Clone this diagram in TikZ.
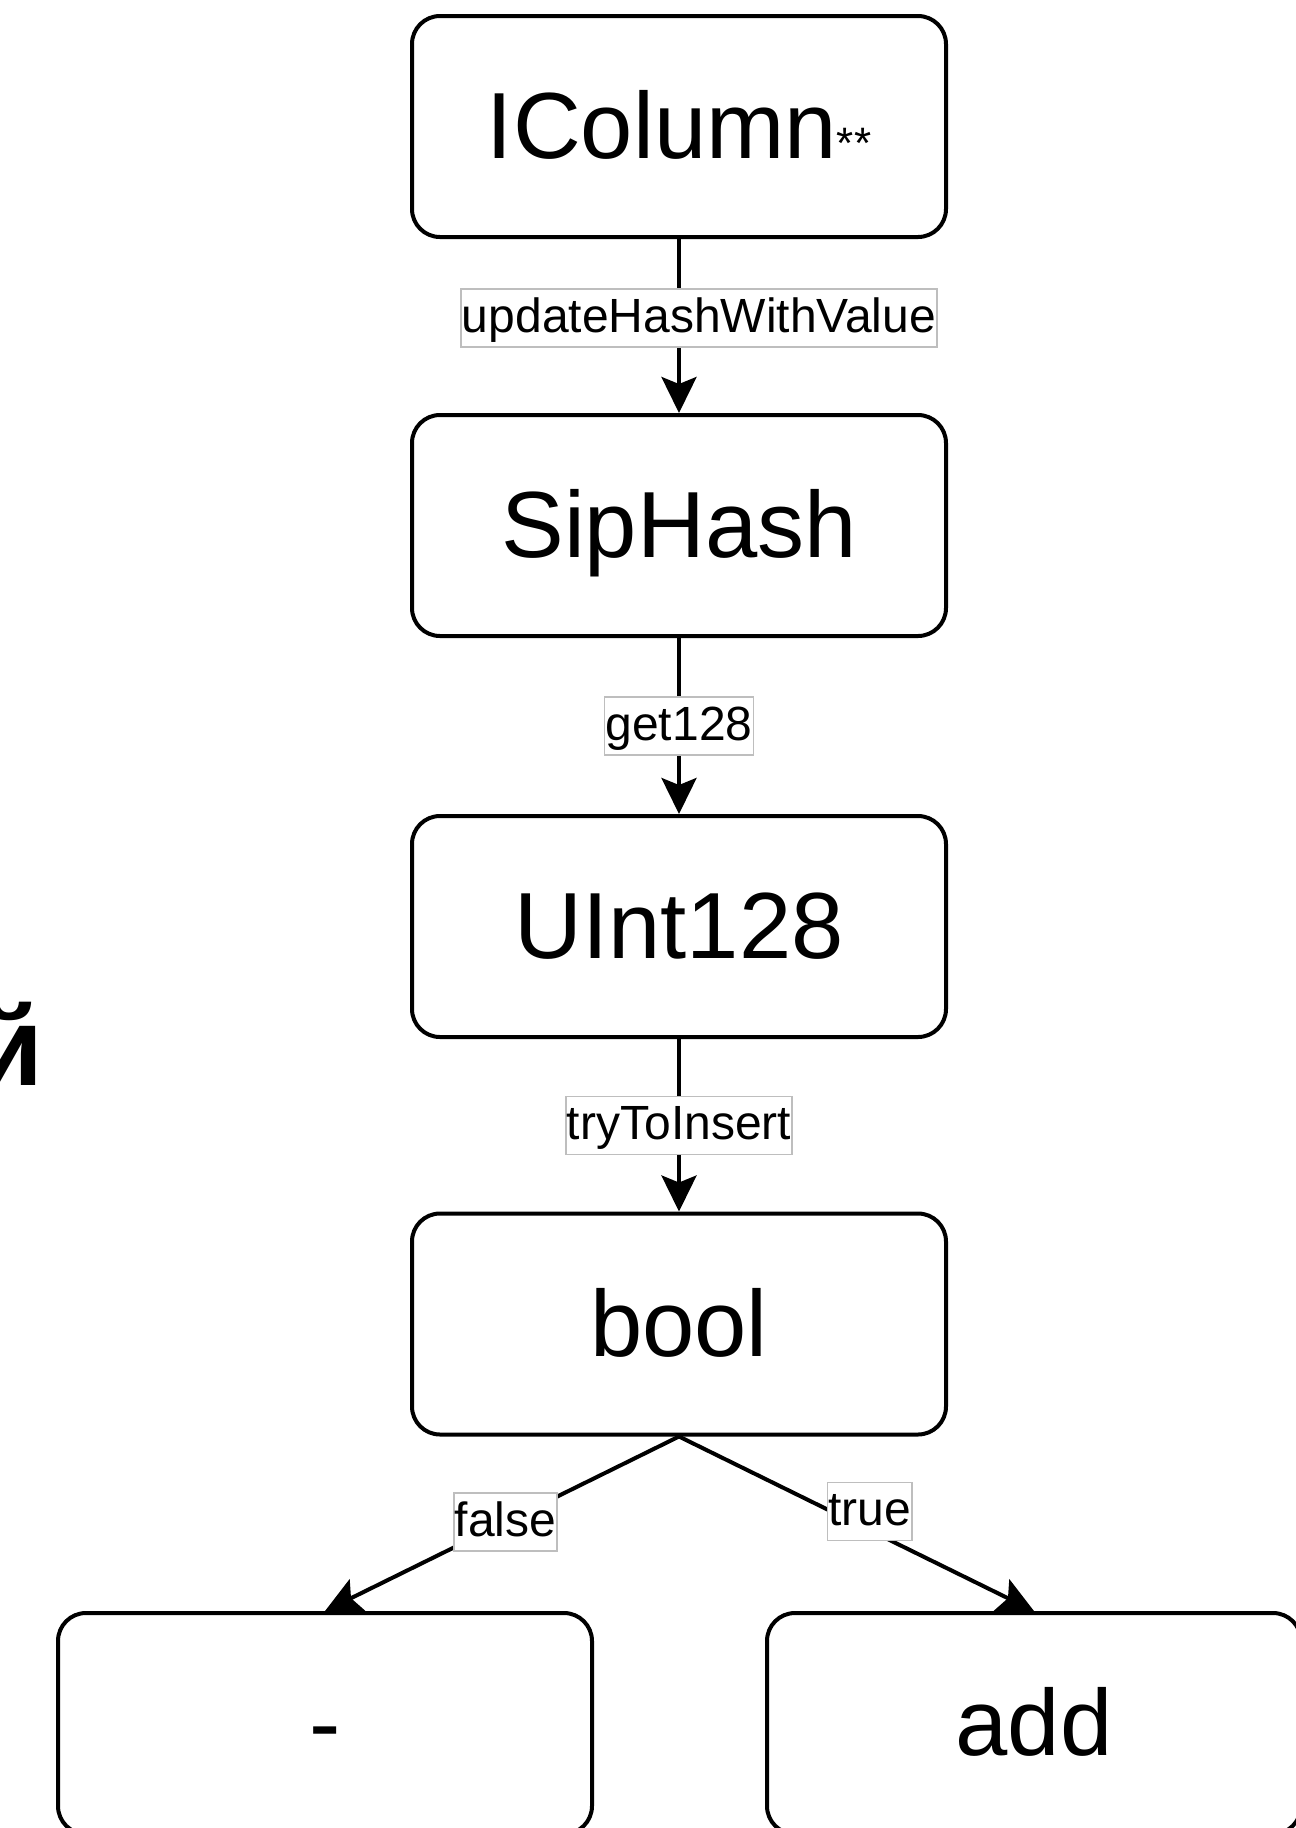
\documentclass[tikz,border=0pt]{standalone}
\usepackage{fontspec}
\setmainfont{Liberation Sans}
\usetikzlibrary{arrows.meta}
\definecolor{lblgray}{RGB}{190,190,190}
\begin{document}
\begin{tikzpicture}[x=0.5pt,y=-0.5pt,
  box/.style={draw=black, line width=2pt, rounded corners=14pt, fill=white,
    minimum width=267pt, minimum height=110.5pt, inner sep=0pt,
    font=\fontsize{47pt}{57pt}\selectfont, text height=32pt, text depth=0pt},
  lbl/.style={draw=lblgray, line width=0.75pt, fill=white, inner xsep=0.5pt, inner ysep=1pt,
    font=\fontsize{24pt}{29pt}\selectfont, text height=20.5pt, text depth=6.5pt},
  conn/.style={line width=2pt, -{Stealth[length=18pt,width=17.5pt,inset=3.5pt]}}
]
\useasboundingbox (0,0) rectangle (1296,1828);
\clip (0,0) rectangle (1296,1828);
\fill[white] (0,0) rectangle (1296,1828);

\node[box] (IC) at (679,126.5) {IColumn{\fontsize{22pt}{26pt}\selectfont **}};
\node[box] (SH) at (679,525.5) {SipHash};
\node[box] (UI) at (679,926.5) {UInt128};
\node[box] (BO) at (679,1324) {bool};
\node[box] (NEG) at (325,1723.5) {-};
\node[box] (ADD) at (1034,1723.5) {add};

\node[font=\fontsize{56pt}{67pt}\selectfont\bfseries, anchor=base east, inner sep=0pt] (cyr) at (44,1085) {й};

\draw[conn] (IC.south) -- node[lbl, pos=0.5, xshift=10pt, yshift=4pt] {updateHashWithValue} (SH.north);
\draw[conn] (SH.south) -- node[lbl, pos=0.5] {get128} (UI.north);
\draw[conn] (UI.south) -- node[lbl, pos=0.5] {tryToInsert} (BO.north);
\draw[conn] (BO.south) -- node[lbl, pos=0.49] {false} (NEG.north);
\draw[conn] (BO.south) -- node[lbl, pos=0.537, yshift=9.25pt] {true} (ADD.north);
\end{tikzpicture}
\end{document}
